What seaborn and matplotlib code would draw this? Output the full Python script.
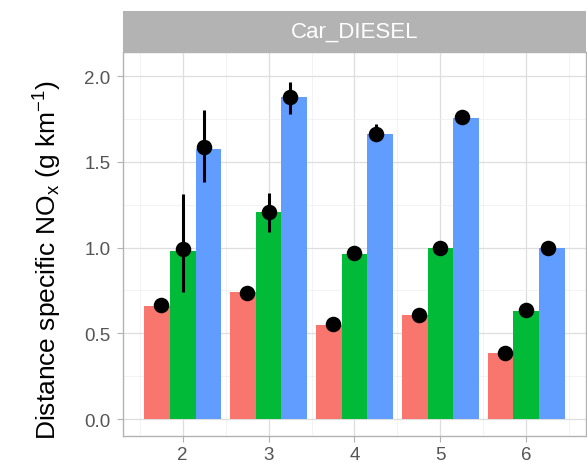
import numpy as np
import pandas as pd
import matplotlib
matplotlib.use("Agg")
import matplotlib.pyplot as plt
import seaborn as sns

# Euro emission classes and the three estimate groups per class
euro_class = [2, 3, 4, 5, 6]
groups = ["A", "B", "C"]
palette = ["#F8766D", "#00BA38", "#619CFF"]

# Bar heights (g/km) per group
bar_a = [0.66, 0.74, 0.55, 0.61, 0.385]
bar_b = [0.98, 1.21, 0.965, 1.00, 0.63]
bar_c = [1.575, 1.875, 1.66, 1.755, 1.00]

# Point estimates with lower / upper interval (NaN where no interval is shown)
pt_a = [0.665, 0.735, 0.555, 0.61, 0.385]
pt_b = [0.99, 1.21, 0.968, 1.00, 0.636]
pt_c = [1.585, 1.88, 1.665, 1.76, 1.00]
lo_a = [np.nan] * 5
hi_a = [np.nan] * 5
lo_b = [0.74, 1.09, np.nan, np.nan, np.nan]
hi_b = [1.31, 1.32, np.nan, np.nan, np.nan]
lo_c = [1.38, 1.78, 1.62, np.nan, np.nan]
hi_c = [1.80, 1.965, 1.72, np.nan, np.nan]

y_ticks = [0.0, 0.5, 1.0, 1.5, 2.0]
panel_title = "Car_DIESEL"

bars = pd.DataFrame({
    "euro": euro_class * 3,
    "group": [g for g in groups for _ in euro_class],
    "nox": bar_a + bar_b + bar_c,
})
points = pd.DataFrame({
    "euro": euro_class * 3,
    "group": [g for g in groups for _ in euro_class],
    "nox": pt_a + pt_b + pt_c,
    "lo": lo_a + lo_b + lo_c,
    "hi": hi_a + hi_b + hi_c,
})
dodge = {"A": -0.25, "B": 0.0, "C": 0.25}
points["xpos"] = points["euro"] + points["group"].map(dodge)

sns.set_theme(style="white")
plt.rcParams["font.family"] = ["Liberation Sans", "DejaVu Sans"]
plt.rcParams["mathtext.fontset"] = "custom"
plt.rcParams["mathtext.rm"] = "Liberation Sans"
plt.rcParams["mathtext.it"] = "Liberation Sans:italic"

W, H = 587, 464
fig = plt.figure(figsize=(W / 100, H / 100), dpi=100)
left, right, top, bottom = 123, 586, 53, 437
ax = fig.add_axes([left / W, 1 - bottom / H, (right - left) / W, (bottom - top) / H])

sns.barplot(data=bars, x="euro", y="nox", hue="group", hue_order=groups,
            palette=palette, native_scale=True, width=0.9, gap=0,
            saturation=1, errorbar=None, legend=False, ax=ax, zorder=2,
            linewidth=0, edgecolor="none")

iv = points.dropna(subset=["lo"])
ax.vlines(iv["xpos"], iv["lo"], iv["hi"], color="black", lw=2.2, zorder=3)
sns.scatterplot(data=points, x="xpos", y="nox", color="black", s=125,
                linewidth=0, legend=False, ax=ax, zorder=4)

ax.set_xlim(1.305, 6.695)
ax.set_ylim(-0.098, 2.14)
ax.set_xticks(euro_class)
ax.set_xticklabels([str(e) for e in euro_class])
ax.set_xticks(np.arange(1.5, 7.0, 1.0), minor=True)
ax.set_yticks(y_ticks)
ax.set_yticklabels([f"{v:.1f}" for v in y_ticks])
ax.set_yticks([0.25, 0.75, 1.25, 1.75], minor=True)

ax.grid(which="major", color="#DEDEDE", lw=0.9, zorder=0)
ax.grid(which="minor", color="#EEEEEE", lw=0.5, zorder=0)
ax.set_axisbelow(True)
for s in ax.spines.values():
    s.set_color("#B3B3B3")
    s.set_linewidth(1.0)

ax.tick_params(axis="both", which="major", length=4, width=0.8, color="#B3B3B3",
               labelsize=13.5, labelcolor="#555555", pad=5, bottom=True, left=True)
ax.tick_params(axis="x", which="major", pad=3)
ax.tick_params(axis="both", which="minor", length=0)
ax.set_xlabel("")
ax.set_ylabel(r"Distance specific NO$_\mathrm{x}$ (g km$^{-1}$)", fontsize=19,
              color="black")
ax.yaxis.set_label_coords(-0.127, 0.46)

# facet strip
strip = fig.add_axes([left / W, 1 - top / H, (right - left) / W, 41 / H])
strip.set_facecolor("#B3B3B3")
strip.set_xticks([])
strip.set_yticks([])
for s in strip.spines.values():
    s.set_visible(False)
strip.text(0.5, 0.5, panel_title, ha="center", va="center", color="white",
           fontsize=16, transform=strip.transAxes)

fig.savefig("out.png", dpi=100)
